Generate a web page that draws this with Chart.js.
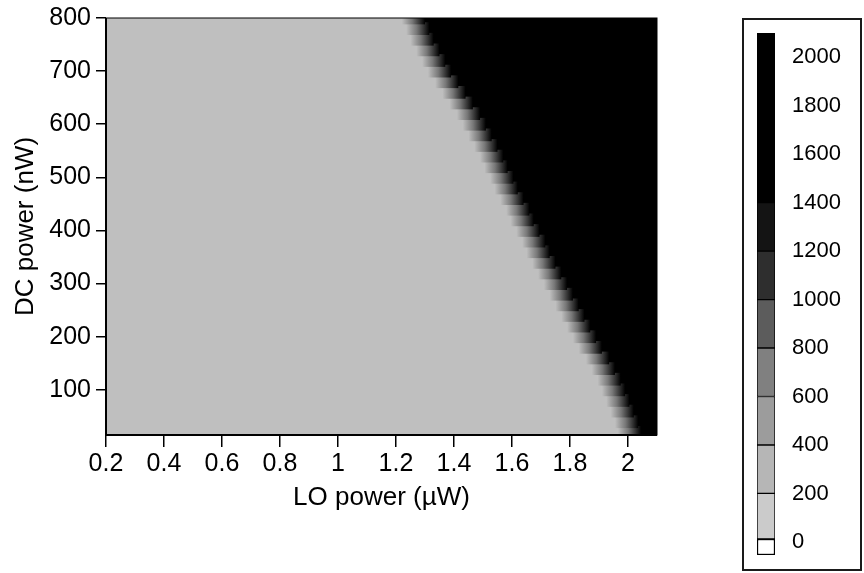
<!DOCTYPE html>
<html>
<head>
<meta charset="utf-8">
<script src="https://cdn.jsdelivr.net/npm/chart.js@4.4.0/dist/chart.umd.min.js"></script>
<style>
    body { margin: 0; background: #fff; }
    #wrap { position: relative; width: 864px; height: 573px; }
    #heatmap { position: absolute; left: 0; top: 0; }
    #legendBox { position: absolute; left: 742px; top: 18px; width: 120px; height: 553px; box-sizing: border-box; border: 2px solid #1a1a1a; }
    #colorbar { position: absolute; left: 0; top: 0; }
</style>
</head>
<body>
<div id="wrap">
    <canvas id="heatmap" width="700" height="573"></canvas>
    <div id="legendBox"><canvas id="colorbar" width="116" height="549"></canvas></div>
</div>
<script>
// rows of the map: DC power (nW)
const dcPower = [20, 40, 60, 80, 100, 120, 140, 160, 180, 200,
    220, 240, 260, 280, 300, 320, 340, 360, 380, 400,
    420, 440, 460, 480, 500, 520, 540, 560, 580, 600,
    620, 640, 660, 680, 700, 720, 740, 760, 780, 800];
// LO power (uW) where each row turns from the low grey level to black
const loEdge = [2.015, 2.005, 1.99, 1.975, 1.96, 1.945, 1.925, 1.905, 1.88, 1.86,
    1.84, 1.82, 1.80, 1.78, 1.76, 1.74, 1.72, 1.70, 1.685, 1.665,
    1.645, 1.63, 1.61, 1.59, 1.575, 1.555, 1.54, 1.52, 1.50, 1.48,
    1.46, 1.435, 1.41, 1.385, 1.36, 1.34, 1.32, 1.30, 1.285, 1.27];
const xTicks = [0.2, 0.4, 0.6, 0.8, 1, 1.2, 1.4, 1.6, 1.8, 2];
const yTicks = [100, 200, 300, 400, 500, 600, 700, 800];

// colour key: value bands and their tick labels
const keyLow = [-54, 12, 200, 400, 600, 800, 1000, 1200, 1400];
const keyHigh = [12, 200, 400, 600, 800, 1000, 1200, 1400, 2100];
const keyTicks = [0, 200, 400, 600, 800, 1000, 1200, 1400, 1600, 1800, 2000];
const keyColors = ['#ffffff', '#cbcbcb', '#b6b6b6', '#9c9c9c', '#808080', '#5c5c5c', '#2e2e2e', '#141414', '#000000'];

const LO_MIN = 0.2, LO_MAX = 2.1;
const GREY = '#bfbfbf';
const FONT = 'Liberation Sans, Arial, Helvetica, sans-serif';

function edgeGradient(context) {
    const chart = context.chart;
    const xs = chart.scales && chart.scales.x;
    if (context.type !== 'data' || !xs || !context.raw) return '#555';
    const x0 = xs.getPixelForValue(context.raw.x[0]);
    const x1 = xs.getPixelForValue(context.raw.x[1]);
    if (!isFinite(x0) || !isFinite(x1) || x1 <= x0) return '#555';
    const g = chart.ctx.createLinearGradient(x0, 0, x1, 0);
    g.addColorStop(0, GREY);
    g.addColorStop(0.45, '#787878');
    g.addColorStop(1, '#000');
    return g;
}

const frame = {
    id: 'frame',
    afterDatasetsDraw(chart) {
        const {ctx, chartArea: a} = chart;
        ctx.save();
        ctx.strokeStyle = '#000';
        ctx.lineWidth = 1;
        ctx.strokeRect(a.left, a.top, a.right - a.left, a.bottom - a.top);
        ctx.lineWidth = 2;
        ctx.beginPath();
        ctx.moveTo(a.left, a.top);
        ctx.lineTo(a.left, a.bottom);
        ctx.lineTo(a.right, a.bottom);
        ctx.stroke();
        ctx.restore();
    }
};

function createHeatmap() {
    const ctx = document.getElementById('heatmap').getContext('2d');
    new Chart(ctx, {
        type: 'bar',
        data: {
            datasets: [
                {
                    label: 'edge',
                    order: 0,
                    data: dcPower.map((dc, i) => ({x: [loEdge[i] - 0.05, loEdge[i] + 0.03], y: dc})),
                    backgroundColor: edgeGradient
                },
                {
                    label: 'low',
                    order: 1,
                    data: dcPower.map((dc, i) => ({x: [LO_MIN, loEdge[i]], y: dc})),
                    backgroundColor: GREY
                },
                {
                    label: 'high',
                    order: 1,
                    data: dcPower.map((dc, i) => ({x: [loEdge[i], LO_MAX], y: dc})),
                    backgroundColor: '#000'
                }
            ]
        },
        options: {
            responsive: false,
            animation: false,
            indexAxis: 'y',
            datasets: {
                bar: {grouped: false, barPercentage: 1.2, categoryPercentage: 1, borderWidth: 0}
            },
            layout: {padding: {top: 18, right: 43, left: 0, bottom: 0}},
            scales: {
                x: {
                    type: 'linear',
                    position: 'bottom',
                    min: LO_MIN,
                    max: LO_MAX,
                    afterBuildTicks: s => { s.ticks = xTicks.map(v => ({value: v})); },
                    afterFit: s => { s.height = 138; s.paddingLeft = 0; s.paddingRight = 0; },
                    border: {display: false},
                    grid: {drawOnChartArea: false, tickLength: 12, color: '#000', lineWidth: 1.5},
                    ticks: {color: '#000', padding: 2, maxRotation: 0, font: {family: FONT, size: 25}, callback: v => String(v)},
                    title: {display: true, text: 'LO power (\u00b5W)', color: '#000', font: {family: FONT, size: 26}, padding: {top: 0, bottom: 60}}
                },
                y: {
                    type: 'linear',
                    position: 'left',
                    offset: false,
                    min: 15,
                    max: 800,
                    afterBuildTicks: s => { s.ticks = yTicks.map(v => ({value: v})); },
                    afterFit: s => { s.width = 106; s.paddingTop = 0; s.paddingBottom = 0; },
                    border: {display: false},
                    grid: {offset: false, drawOnChartArea: false, tickLength: 10, color: '#000', lineWidth: 1.5},
                    ticks: {color: '#000', padding: 5, font: {family: FONT, size: 25}, callback: v => String(v)},
                    title: {display: true, text: 'DC power (nW)', color: '#000', font: {family: FONT, size: 26}, padding: {top: 10, bottom: 0}}
                }
            },
            plugins: {
                legend: {display: false},
                tooltip: {enabled: false}
            }
        },
        plugins: [frame]
    });
}

function createColorKey() {
    const ctx = document.getElementById('colorbar').getContext('2d');
    new Chart(ctx, {
        type: 'bar',
        data: {
            labels: [''],
            datasets: keyLow.map((lo, i) => ({
                label: String(lo),
                data: [[lo, keyHigh[i]]],
                backgroundColor: keyColors[i],
                borderColor: '#000',
                borderWidth: i === 0 ? 1.5 : 1,
                borderSkipped: false
            }))
        },
        options: {
            responsive: false,
            animation: false,
            datasets: {
                bar: {grouped: false, barPercentage: 1, categoryPercentage: 1}
            },
            layout: {padding: {left: 13, top: 13, bottom: 14, right: 0}},
            scales: {
                x: {display: false},
                y: {
                    position: 'right',
                    min: -54,
                    max: 2100,
                    afterBuildTicks: s => { s.ticks = keyTicks.map(v => ({value: v})); },
                    afterFit: s => { s.width = 85; s.paddingTop = 0; s.paddingBottom = 0; },
                    border: {display: false},
                    grid: {display: false, drawTicks: false},
                    ticks: {color: '#000', padding: 17, font: {family: FONT, size: 22}, callback: v => String(v)}
                }
            },
            plugins: {
                legend: {display: false},
                tooltip: {enabled: false}
            }
        }
    });
}

document.addEventListener('DOMContentLoaded', function() {
    createHeatmap();
    createColorKey();
});
</script>
</body>
</html>
